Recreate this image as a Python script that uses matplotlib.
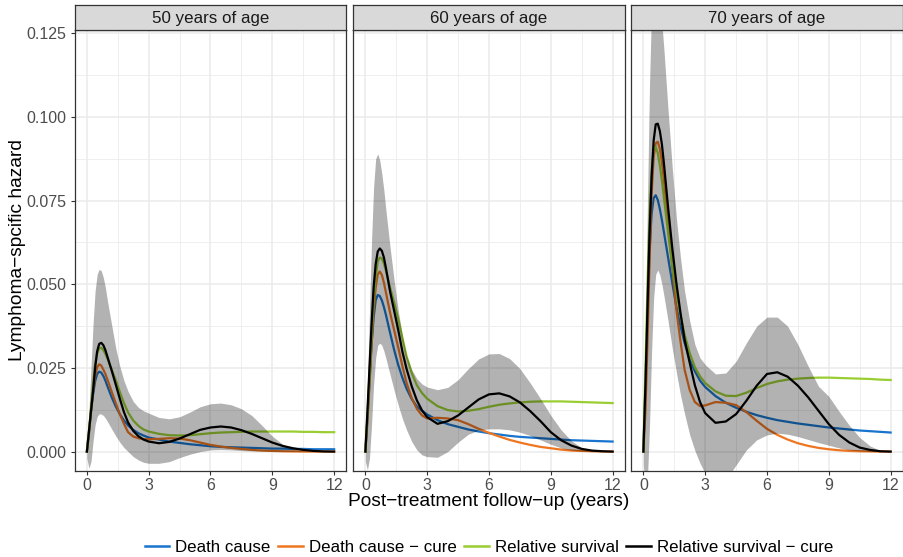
import matplotlib
matplotlib.use("Agg")
import matplotlib.pyplot as plt
from matplotlib.lines import Line2D

plt.rcParams['font.family'] = ['Liberation Sans', 'DejaVu Sans']

# Follow-up time grid (years)
years = [0, 0.1, 0.2, 0.3, 0.4, 0.5, 0.6, 0.7, 0.8, 0.9, 1.0, 1.2, 1.4, 1.6, 1.8,
         2.0, 2.25, 2.5, 2.75, 3.0, 3.5, 4.0, 4.5, 5.0, 5.5, 6.0, 6.5, 7.0, 7.5,
         8.0, 8.5, 9.0, 9.5, 10.0, 10.5, 11.0, 11.5, 12.0]

panel_titles = ["50 years of age", "60 years of age", "70 years of age"]
series_labels = ["Death cause", "Death cause \u2212 cure",
                 "Relative survival", "Relative survival \u2212 cure"]
series_colors = ["#1874CD", "#EE7621", "#9ACD32", "#000000"]

# ---- 50 years of age ----
dc_50 = [0, 0.006, 0.012, 0.017, 0.021, 0.0232, 0.0239, 0.0236, 0.0226, 0.0212, 0.0195,
         0.0163, 0.0135, 0.0112, 0.0093, 0.0078, 0.0065, 0.0055, 0.0048, 0.0042, 0.0036,
         0.003, 0.0026, 0.0022, 0.0019, 0.0016, 0.0014, 0.0013, 0.0012, 0.0011, 0.001,
         0.0009, 0.0009, 0.0008, 0.0008, 0.0007, 0.0007, 0.0007]
dcc_50 = [0, 0.005, 0.012, 0.018, 0.0225, 0.0252, 0.0261, 0.0257, 0.0245, 0.0232,
          0.0215, 0.018, 0.0145, 0.0112, 0.0083, 0.0058, 0.0045, 0.004, 0.0037, 0.0037,
          0.0038, 0.004, 0.0039, 0.0034, 0.0027, 0.002, 0.0015, 0.0011, 0.0008, 0.0005,
          0.0003, 0.0002, 0.0001, 0.00005, 0.00002, 0, 0, 0]
rs_50 = [0, 0.006, 0.013, 0.02, 0.026, 0.0293, 0.0309, 0.031, 0.0303, 0.0292, 0.0278,
         0.0246, 0.0214, 0.0178, 0.0145, 0.0117, 0.0093, 0.0077, 0.0066, 0.006, 0.0053,
         0.0049, 0.0048, 0.0049, 0.0052, 0.0055, 0.0057, 0.0058, 0.0059, 0.006, 0.006,
         0.006, 0.006, 0.006, 0.0059, 0.0059, 0.0058, 0.0058]
rsc_50 = [0, 0.006, 0.012, 0.018, 0.025, 0.03, 0.0322, 0.0325, 0.0318, 0.0303, 0.0283,
          0.0243, 0.0201, 0.0158, 0.0118, 0.0087, 0.0062, 0.0046, 0.0036, 0.003, 0.0025,
          0.0029, 0.0039, 0.0052, 0.0065, 0.0072, 0.0075, 0.0072, 0.0064, 0.0053, 0.004,
          0.0027, 0.0017, 0.001, 0.0005, 0.0002, 0.00005, 0]
lo_50 = [-0.002, -0.005, -0.003, 0.003, 0.008, 0.0105, 0.0113, 0.0112, 0.0108, 0.01,
         0.009, 0.0068, 0.0047, 0.0028, 0.0012, 0.0, -0.0015, -0.0025, -0.0032,
         -0.0035, -0.0035, -0.003, -0.0018, -0.0008, 0.0, 0.0005, 0.0006, 0.0005,
         0.0003, 0.0002, 0.0001, 0, 0, 0, 0, 0, 0, 0]
hi_50 = [0.002, 0.012, 0.025, 0.038, 0.048, 0.053, 0.0545, 0.054, 0.052, 0.049, 0.045,
         0.038, 0.031, 0.0255, 0.0212, 0.018, 0.015, 0.0132, 0.0122, 0.0115, 0.0102,
         0.0098, 0.0104, 0.0118, 0.0134, 0.0143, 0.0145, 0.014, 0.0128, 0.0108, 0.0078,
         0.0046, 0.0022, 0.0008, 0.0002, 0, 0, 0]

# ---- 60 years of age ----
dc_60 = [0, 0.01, 0.021, 0.032, 0.04, 0.0452, 0.0468, 0.0465, 0.0452, 0.0432, 0.0408,
         0.0355, 0.0303, 0.0258, 0.022, 0.0188, 0.0157, 0.0135, 0.0122, 0.0111, 0.0094,
         0.0082, 0.0074, 0.0066, 0.006, 0.0055, 0.0051, 0.0047, 0.0044, 0.0042, 0.004,
         0.0038, 0.0036, 0.0034, 0.0033, 0.0032, 0.0031, 0.003]
dcc_60 = [0, 0.009, 0.02, 0.032, 0.042, 0.049, 0.053, 0.0538, 0.0528, 0.0505, 0.0475,
          0.0415, 0.0362, 0.031, 0.0255, 0.0205, 0.016, 0.0128, 0.0108, 0.0099, 0.0101,
          0.0099, 0.0094, 0.0082, 0.0068, 0.0056, 0.0045, 0.0035, 0.0027, 0.002, 0.0014,
          0.001, 0.0006, 0.0003, 0.0002, 0.0001, 0.00003, 0]
rs_60 = [0, 0.011, 0.023, 0.035, 0.045, 0.052, 0.0568, 0.058, 0.0577, 0.0562, 0.054,
         0.049, 0.0445, 0.0395, 0.034, 0.0285, 0.0235, 0.0198, 0.0175, 0.0158, 0.0136,
         0.0124, 0.012, 0.0122, 0.0127, 0.0134, 0.014, 0.0144, 0.0147, 0.0149, 0.015,
         0.015, 0.015, 0.0149, 0.0148, 0.0147, 0.0146, 0.0145]
rsc_60 = [0, 0.012, 0.025, 0.038, 0.049, 0.056, 0.0598, 0.0607, 0.06, 0.058, 0.0548,
          0.0478, 0.042, 0.0362, 0.0298, 0.0247, 0.0195, 0.0153, 0.0123, 0.0103, 0.0083,
          0.0091, 0.0108, 0.0132, 0.0156, 0.0171, 0.0174, 0.0165, 0.0147, 0.0121, 0.0091,
          0.0058, 0.0034, 0.0018, 0.0008, 0.0003, 0.0001, 0]
lo_60 = [-0.003, -0.0055, -0.002, 0.008, 0.02, 0.028, 0.0318, 0.0324, 0.0318, 0.03,
         0.0278, 0.023, 0.0182, 0.0138, 0.0098, 0.0065, 0.003, 0.0005, -0.001, -0.0015,
         -0.0017, 0.0, 0.0028, 0.0052, 0.0064, 0.0068, 0.0068, 0.0065, 0.0058, 0.0048,
         0.0035, 0.0022, 0.0011, 0.0004, 0.0001, 0, 0, 0]
hi_60 = [0.003, 0.02, 0.042, 0.063, 0.079, 0.0875, 0.089, 0.087, 0.083, 0.078, 0.072,
         0.061, 0.051, 0.042, 0.0345, 0.0288, 0.0245, 0.0218, 0.0202, 0.0193, 0.0185,
         0.0192, 0.0215, 0.0248, 0.0277, 0.0292, 0.0293, 0.0278, 0.0248, 0.0205, 0.0158,
         0.0108, 0.0065, 0.0032, 0.0012, 0.0003, 0, 0]

# ---- 70 years of age ----
dc_70 = [0, 0.02, 0.042, 0.06, 0.071, 0.0758, 0.0766, 0.0752, 0.0725, 0.0692, 0.0655,
         0.058, 0.0505, 0.0433, 0.0375, 0.0325, 0.0274, 0.024, 0.0212, 0.0193, 0.0166,
         0.0146, 0.0131, 0.0119, 0.0109, 0.0101, 0.0094, 0.0089, 0.0084, 0.008, 0.0076,
         0.0072, 0.0069, 0.0066, 0.0063, 0.0061, 0.0059, 0.0057]
dcc_70 = [0, 0.012, 0.033, 0.057, 0.077, 0.088, 0.0922, 0.0926, 0.0905, 0.0865, 0.081,
          0.0685, 0.0555, 0.0425, 0.033, 0.0245, 0.0184, 0.0148, 0.0136, 0.0138, 0.0148,
          0.0146, 0.0139, 0.0118, 0.0092, 0.0068, 0.005, 0.0036, 0.0025, 0.0017, 0.0011,
          0.0007, 0.0004, 0.0002, 0.0001, 0.00005, 0.00002, 0]
rs_70 = [0, 0.025, 0.05, 0.07, 0.084, 0.0905, 0.0911, 0.0892, 0.0855, 0.081, 0.0758,
         0.0655, 0.0555, 0.0475, 0.0408, 0.035, 0.0294, 0.0252, 0.0225, 0.0205, 0.018,
         0.0167, 0.0166, 0.0176, 0.019, 0.0202, 0.021, 0.0215, 0.0218, 0.022, 0.0221,
         0.0221, 0.022, 0.0219, 0.0218, 0.0217, 0.0215, 0.0214]
rsc_70 = [0, 0.02, 0.043, 0.065, 0.082, 0.093, 0.0978, 0.098, 0.0958, 0.0918, 0.086,
          0.073, 0.061, 0.0505, 0.0415, 0.0335, 0.0265, 0.0198, 0.0148, 0.0115, 0.0086,
          0.009, 0.0112, 0.0152, 0.0197, 0.0232, 0.0237, 0.0224, 0.0197, 0.0162, 0.0122,
          0.0082, 0.005, 0.0027, 0.0012, 0.0005, 0.0001, 0]
lo_70 = [-0.004, -0.012, -0.008, 0.008, 0.03, 0.046, 0.053, 0.0543, 0.0528, 0.05,
         0.0465, 0.039, 0.031, 0.0238, 0.017, 0.0113, 0.005, 0.0003, -0.0035, -0.0065,
         -0.0095, -0.0085, -0.004, 0.0005, 0.0035, 0.005, 0.0055, 0.0052, 0.0045, 0.0036,
         0.0027, 0.0019, 0.0011, 0.0005, 0.0002, 0, 0, 0]
hi_70 = [0.004, 0.035, 0.075, 0.11, 0.133, 0.144, 0.146, 0.142, 0.135, 0.128, 0.12,
         0.102, 0.085, 0.07, 0.058, 0.048, 0.039, 0.032, 0.028, 0.026, 0.0232, 0.0235,
         0.027, 0.0325, 0.0375, 0.0402, 0.0402, 0.0375, 0.032, 0.0255, 0.0195, 0.0165,
         0.012, 0.0078, 0.0042, 0.0017, 0.0003, 0]

panels = [
    (dc_50, dcc_50, rs_50, rsc_50, lo_50, hi_50),
    (dc_60, dcc_60, rs_60, rsc_60, lo_60, hi_60),
    (dc_70, dcc_70, rs_70, rsc_70, lo_70, hi_70),
]

x_ticks = [0, 3, 6, 9, 12]
y_ticks = [0.0, 0.025, 0.05, 0.075, 0.1, 0.125]

W, H = 904, 557
fig = plt.figure(figsize=(W / 100, H / 100), dpi=100)

panel_lefts = [74.5, 353.0, 631.0]
panel_w = 272.0
panel_top, panel_bottom = 30.0, 471.0
strip_top = 5.0

border_col = "#333333"
text_col = "#4D4D4D"
grid_col = "#EBEBEB"

for i, (left, title, data) in enumerate(zip(panel_lefts, panel_titles, panels)):
    dc, dcc, rs, rsc, lo, hi = data
    ax = fig.add_axes([left / W, (H - panel_bottom) / H, panel_w / W,
                       (panel_bottom - panel_top) / H])
    ax.set_xlim(-0.6, 12.6)
    ax.set_ylim(-0.0058, 0.126)

    # grid
    for xv in [1.5, 4.5, 7.5, 10.5]:
        ax.axvline(xv, color=grid_col, lw=0.55, zorder=0)
    for yv in [0.0125, 0.0375, 0.0625, 0.0875, 0.1125]:
        ax.axhline(yv, color=grid_col, lw=0.55, zorder=0)
    for xv in x_ticks:
        ax.axvline(xv, color=grid_col, lw=1.1, zorder=0)
    for yv in y_ticks:
        ax.axhline(yv, color=grid_col, lw=1.1, zorder=0)

    for vals, col in zip([dc, dcc, rs], series_colors[:3]):
        ax.plot(years, vals, color=col, lw=1.6, zorder=2, solid_joinstyle="round")
    ax.fill_between(years, lo, hi, color="black", alpha=0.3, lw=0, zorder=3)
    ax.plot(years, rsc, color=series_colors[3], lw=1.6, zorder=4,
            solid_joinstyle="round")

    ax.set_xticks(x_ticks)
    ax.set_xticklabels([str(v) for v in x_ticks])
    ax.set_yticks(y_ticks)
    if i == 0:
        ax.set_yticklabels([f"{v:.3f}" for v in y_ticks])
        ax.tick_params(axis="y", length=3.2, width=0.8, color=border_col,
                       labelcolor=text_col, labelsize=11.5, pad=2.5)
    else:
        ax.tick_params(axis="y", left=False, labelleft=False)
    ax.tick_params(axis="x", length=3.2, width=0.8, color=border_col,
                   labelcolor=text_col, labelsize=11.5, pad=2.0)
    for sp in ax.spines.values():
        sp.set_color(border_col)
        sp.set_linewidth(0.9)
        sp.set_zorder(5)

    sax = fig.add_axes([left / W, (H - panel_top) / H, panel_w / W,
                        (panel_top - strip_top) / H])
    sax.set_facecolor("#D9D9D9")
    sax.set_xticks([])
    sax.set_yticks([])
    for sp in sax.spines.values():
        sp.set_color(border_col)
        sp.set_linewidth(0.9)
    sax.text(0.5, 0.45, title, ha="center", va="center", fontsize=12.2,
             color="#1A1A1A", transform=sax.transAxes)

fig.text((panel_lefts[0] + panel_lefts[2] + panel_w) / 2 / W, 1 - 502 / H,
         "Post\u2212treatment follow\u2212up (years)", ha="center", va="center",
         fontsize=13.8, color="black")
fig.text(18 / W, 1 - (panel_top + panel_bottom) / 2 / H,
         "Lymphoma\u2212spcific hazard", ha="center", va="center", rotation=90,
         fontsize=13.8, color="black")

handles = [Line2D([0], [0], color=c, lw=1.8) for c in series_colors]
fig.legend(handles, series_labels, loc="center", ncol=4, frameon=False,
           bbox_to_anchor=(0.5 * (panel_lefts[0] + panel_lefts[2] + panel_w) / W,
                           1 - 547 / H),
           fontsize=12.2, handlelength=1.45, handletextpad=0.35, columnspacing=0.45,
           borderaxespad=0)

fig.savefig("out.png", dpi=100)
